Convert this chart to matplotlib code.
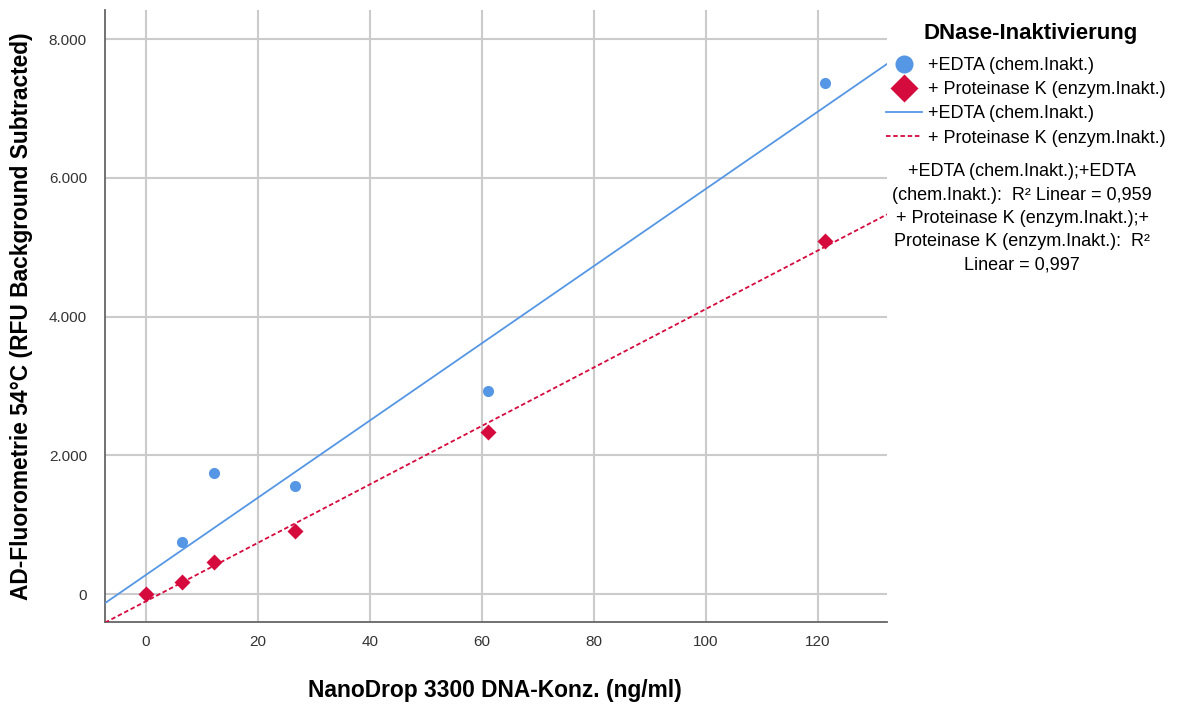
import numpy as np
import matplotlib.pyplot as plt
from matplotlib.lines import Line2D
from matplotlib.ticker import FuncFormatter

plt.rcParams["font.family"] = ["Liberation Sans", "DejaVu Sans"]

# ----------------------------
# data (the EDTA blank at 0 sits under the Proteinase K blank)
# ----------------------------
edta_conc = [0.0, 6.5, 12.2, 26.6, 61.1, 121.3]
edta_rfu = [0, 748, 1741, 1558, 2930, 7367]

protk_conc = [0.0, 6.5, 12.2, 26.6, 61.1, 121.3]
protk_rfu = [0, 177, 465, 911, 2335, 5098]

label_edta = "+EDTA (chem.Inakt.)"
label_protk = "+ Proteinase K (enzym.Inakt.)"
r2_edta = "0,959"
r2_protk = "0,997"

blue = "#5597E4"
red = "#D50A3D"
grid_col = "#cbcbcb"

XLIM = (-7.3, 132.3)
YLIM = (-400, 8420)

# ----------------------------
# plotting
# ----------------------------
W, H = 1183, 704
fig = plt.figure(figsize=(W / 100, H / 100), dpi=100)
ax = fig.add_axes([105 / W, 82 / H, 782 / W, 612 / H])

ax.set_xlim(*XLIM)
ax.set_ylim(*YLIM)

# linear fits across the full x range
xs = np.array(XLIM)
k1, d1 = np.polyfit(edta_conc, edta_rfu, 1)
k2, d2 = np.polyfit(protk_conc, protk_rfu, 1)
ax.plot(xs, k1 * xs + d1, color=blue, lw=1.3, zorder=3)
ax.plot(xs, k2 * xs + d2, color=red, lw=1.3, ls=(0, (2.5, 1.5)), zorder=3)

ax.plot(edta_conc, edta_rfu, "o", color=blue, ms=8, mec="none", zorder=4)
ax.plot(protk_conc, protk_rfu, "D", color=red, ms=8.5, mec="none", zorder=5)

ax.set_xticks([0, 20, 40, 60, 80, 100, 120])
ax.set_yticks([0, 2000, 4000, 6000, 8000])
ax.yaxis.set_major_formatter(FuncFormatter(lambda v, p: f"{int(v):,}".replace(",", ".")))

ax.grid(True, color=grid_col, lw=1.5)
ax.set_axisbelow(True)
for s in ["top", "right"]:
    ax.spines[s].set_visible(False)
for s in ["left", "bottom"]:
    ax.spines[s].set_color("#666666")
    ax.spines[s].set_linewidth(1.3)
ax.tick_params(length=0, labelsize=11, labelcolor="#333333")
ax.tick_params(axis="x", pad=9)
ax.tick_params(axis="y", pad=13)

fig.text(495 / W, 1 - 690 / H, "NanoDrop 3300 DNA-Konz. (ng/ml)", fontsize=16.4,
         fontweight="bold", ha="center", va="center")
fig.text(22 / W, 1 - 316 / H, "AD-Fluorometrie 54°C (RFU Background Subtracted)",
         fontsize=16.4, fontweight="bold", ha="center", va="center", rotation=90)

# legend
fig.text(1031 / W, 1 - 33 / H, "DNase-Inaktivierung", fontsize=16, fontweight="bold",
         ha="center", va="center")
handles = [
    Line2D([], [], ls="none", marker="o", color=blue, ms=13, mec="none"),
    Line2D([], [], ls="none", marker="D", color=red, ms=14, mec="none"),
    Line2D([], [], color=blue, lw=1.3),
    Line2D([], [], color=red, lw=1.3, ls=(0, (2.5, 1.5))),
]
labels = [label_edta, label_protk, label_edta, label_protk]
fig.legend(handles, labels, loc="upper left", bbox_to_anchor=(886 / W, 1 - 57 / H),
           frameon=False, fontsize=13, handlelength=2.0, handletextpad=0.35,
           labelspacing=0.4, borderpad=0, borderaxespad=0)

# R² notes for the two fit lines
fit_lines = [
    f"{label_edta};+EDTA",
    f"(chem.Inakt.):  R² Linear = {r2_edta}",
    f"{label_protk};+",
    "Proteinase K (enzym.Inakt.):  R²",
    f"Linear = {r2_protk}",
]
for i, line in enumerate(fit_lines):
    fig.text(1022 / W, 1 - (172 + 23.3 * i) / H, line, fontsize=13, ha="center", va="center")

plt.savefig("out.png", dpi=100)
